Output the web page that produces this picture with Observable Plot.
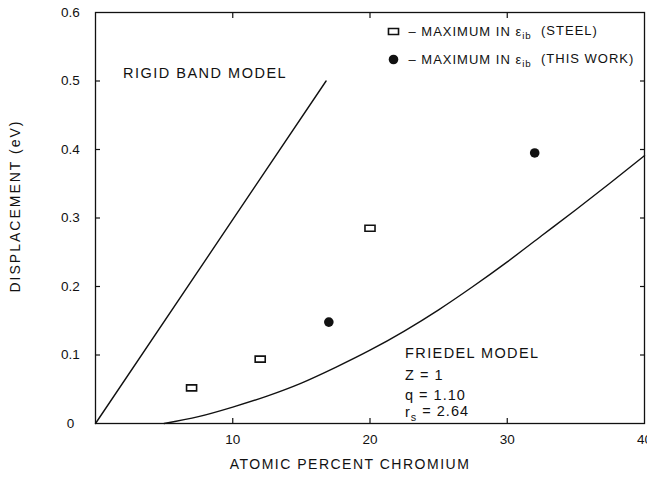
<!DOCTYPE html>
<html><head><meta charset="utf-8">
<script src="https://cdn.jsdelivr.net/npm/d3@7"></script>
<script src="https://cdn.jsdelivr.net/npm/@observablehq/plot@0.6"></script>
<style>
body{margin:0;background:#fff;}
#chart svg{font-family:"Liberation Sans",Arial,sans-serif;}
</style>
</head><body><div id="chart"></div>
<script>
// Data
const steelX = [7, 12, 20];
const steelY = [0.052, 0.094, 0.285];
const workX = [17, 32];
const workY = [0.148, 0.395];
const rigidX = [0, 16.8];
const rigidY = [0, 0.5];
const friedelX = [5, 7.5, 10, 12.5, 15, 17.5, 20, 22.5, 25, 27.5, 30, 32.5, 35, 37.5, 40];
const friedelY = [0, 0.010, 0.024, 0.040, 0.059, 0.082, 0.107, 0.135, 0.166, 0.200, 0.236, 0.274, 0.312, 0.351, 0.391];
const xTicks = [10, 20, 30, 40];
const xInnerTicks = [10, 20, 30];
const yTicks = [0, 0.1, 0.2, 0.3, 0.4, 0.5, 0.6];
const yTickLabels = ["0", "0.1", "0.2", "0.3", "0.4", "0.5", "0.6"];
const yInnerTicks = [0.1, 0.2, 0.3, 0.4, 0.5];
const annX = [2.0, 22.55, 22.55, 22.55, 22.55];
const annY = [0.504, 0.095, 0.064, 0.034, 0.009];
const annText = ["RIGID BAND MODEL", "FRIEDEL MODEL", "Z = 1", "q = 1.10", "r_{s} = 2.64"];
const legendText = ["– MAXIMUM IN ε_{ib}  (STEEL)", "– MAXIMUM IN ε_{ib}  (THIS WORK)"];
const xLabel = "ATOMIC PERCENT CHROMIUM";
const yLabel = "DISPLACEMENT (eV)";

const steel = steelX.map((x, i) => ({x, y: steelY[i]}));
const work = workX.map((x, i) => ({x, y: workY[i]}));
const rigid = rigidX.map((x, i) => ({x, y: rigidY[i]}));
const friedel = friedelX.map((x, i) => ({x, y: friedelY[i]}));
const ann = annText.map((t, i) => ({x: annX[i], y: annY[i], t}));

const rectSymbol = {
  draw(ctx, size) {
    const s = Math.sqrt(size);
    const w = s * 1.35, h = s * 0.8;
    ctx.moveTo(-w / 2, -h / 2);
    ctx.lineTo(w / 2, -h / 2);
    ctx.lineTo(w / 2, h / 2);
    ctx.lineTo(-w / 2, h / 2);
    ctx.closePath();
  }
};

const ink = "#111";
const tk = 5;
const noText = () => "";
const chart = Plot.plot({
  width: 647,
  height: 499,
  marginLeft: 95,
  marginRight: 3,
  marginTop: 12,
  marginBottom: 76,
  style: {fontFamily: "Liberation Sans, Arial, sans-serif", color: ink, background: "#fff"},
  x: {domain: [0, 40]},
  y: {domain: [0, 0.6]},
  marks: [
    Plot.frame({stroke: ink, strokeWidth: 1.3}),
    // inward ticks (outer ticks shifted inside the frame)
    Plot.axisX(xInnerTicks, {anchor: "bottom", tickSize: tk, dy: -tk, tickFormat: noText, label: null, stroke: ink, strokeWidth: 1.2}),
    Plot.axisX(xInnerTicks, {anchor: "top", tickSize: tk, dy: tk, tickFormat: noText, label: null, stroke: ink, strokeWidth: 1.2}),
    Plot.axisY(yInnerTicks, {anchor: "left", tickSize: tk, dx: tk, tickFormat: noText, label: null, stroke: ink, strokeWidth: 1.2}),
    Plot.axisY(yInnerTicks, {anchor: "right", tickSize: tk, dx: -tk, tickFormat: noText, label: null, stroke: ink, strokeWidth: 1.2}),
    // tick labels
    Plot.axisX(xTicks, {anchor: "bottom", tickSize: 0, tickPadding: 11, fontSize: 13.5, label: null, fill: ink}),
    Plot.axisY(yTicks, {anchor: "left", tickSize: 0, tickPadding: 25, textAnchor: "middle", fontSize: 13.5, label: null, fill: ink,
      tickFormat: (d) => yTickLabels[yTicks.indexOf(d)]}),
    // curves
    Plot.line(rigid, {x: "x", y: "y", stroke: ink, strokeWidth: 1.4}),
    Plot.line(friedel, {x: "x", y: "y", stroke: ink, strokeWidth: 1.4, curve: "monotone-x"}),
    // points
    Plot.dot(steel, {x: "x", y: "y", symbol: rectSymbol, r: 4.2, stroke: ink, strokeWidth: 1.6, fill: "#fff"}),
    Plot.dot(work, {x: "x", y: "y", r: 4.8, fill: ink, stroke: "none"}),
    // annotations
    Plot.text(ann, {x: "x", y: "y", text: "t", textAnchor: "start", lineAnchor: "bottom", fontSize: 14.5, fill: ink}),
    // legend
    Plot.dot([0], {frameAnchor: "top-left", dx: 298, dy: 19, symbol: rectSymbol, r: 4.2, stroke: ink, strokeWidth: 1.6, fill: "#fff"}),
    Plot.dot([0], {frameAnchor: "top-left", dx: 298, dy: 47, r: 4.8, fill: ink, stroke: "none"}),
    Plot.text([legendText[0]], {frameAnchor: "top-left", dx: 313, dy: 19, textAnchor: "start", lineAnchor: "middle", fontSize: 13, fill: ink}),
    Plot.text([legendText[1]], {frameAnchor: "top-left", dx: 313, dy: 47, textAnchor: "start", lineAnchor: "middle", fontSize: 13, fill: ink}),
    // axis titles
    Plot.text([yLabel], {frameAnchor: "left", dx: -80, dy: -12, rotate: -90, textAnchor: "middle", lineAnchor: "middle", fontSize: 14, fill: ink}),
    Plot.text([xLabel], {frameAnchor: "bottom", dx: -20, dy: 41, textAnchor: "middle", lineAnchor: "middle", fontSize: 14, fill: ink})
  ]
});

document.getElementById("chart").appendChild(chart);

// letter spacing to match the wide lettering of the original
const spacing = new Map([
  [xLabel, "1.5px"], [yLabel, "2px"], ["RIGID BAND MODEL", "1.5px"], ["FRIEDEL MODEL", "1.4px"],
  ["Z = 1", "1px"], ["q = 1.10", "1px"], ["r_{s} = 2.64", "1px"],
  [legendText[0], "1px"], [legendText[1], "1px"]
]);
d3.select(chart).selectAll("text").each(function () {
  const sp = spacing.get(this.textContent);
  if (sp) this.setAttribute("letter-spacing", sp);
});

// turn "_{..}" into real subscripts
d3.select(chart).selectAll("text").each(function () {
  const el = this;
  const s = el.textContent;
  const m = s.match(/^(.*?)_\{(.*?)\}(.*)$/);
  if (!m) return;
  el.textContent = "";
  const t = d3.select(el);
  t.append("tspan").text(m[1]);
  t.append("tspan").attr("dy", "0.35em").attr("font-size", "0.75em").text(m[2]);
  t.append("tspan").attr("dy", "-0.35em").text(m[3]);
});
</script>
</body></html>
